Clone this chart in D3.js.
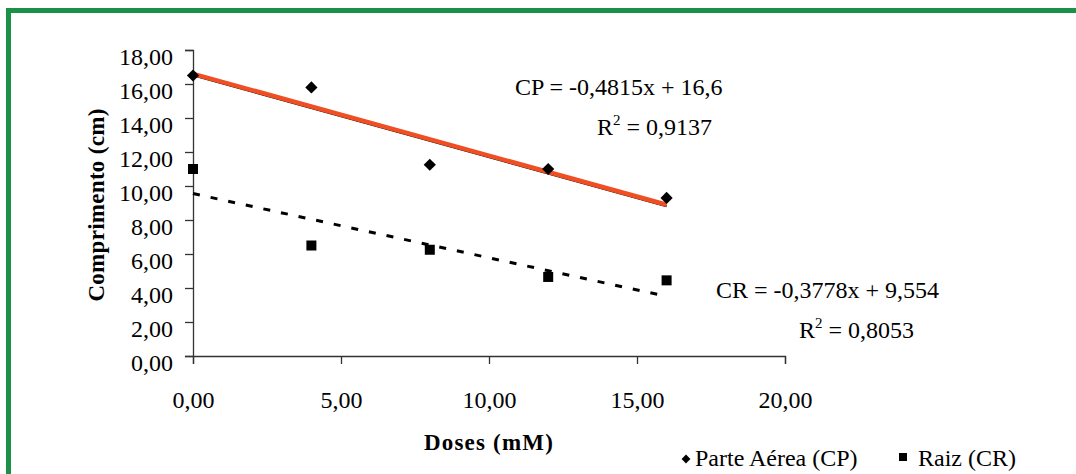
<!DOCTYPE html>
<html>
<head>
<meta charset="utf-8">
<script src="https://cdn.jsdelivr.net/npm/d3@7"></script>
<style>
  body { margin: 0; background: #fff; }
  text { font-family: "Liberation Serif", "Times New Roman", serif; fill: #000; }
</style>
</head>
<body>
<script>
var width = 1076,
  height = 474;

var doses = [0, 4, 8, 12, 16];
var parteAerea = [16.5, 15.8, 11.25, 11.0, 9.3];
var raiz = [11.0, 6.5, 6.25, 4.65, 4.45];
var xTicks = [0, 5, 10, 15, 20];
var yTicks = [0, 2, 4, 6, 8, 10, 12, 14, 16, 18];
var cpFit = [-0.4815, 16.6];
var crFit = [-0.3778, 9.554];

var fmt = function (d) { return d.toFixed(2).replace(".", ","); };

var svg = d3.select("body")
  .append("svg")
  .attr("width", width)
  .attr("height", height);

// green frame (only top and left edges visible)
svg.append("rect")
  .attr("x", 8.5)
  .attr("y", 10.5)
  .attr("width", width + 20)
  .attr("height", height + 20)
  .attr("fill", "none")
  .attr("stroke", "#1b9148")
  .attr("stroke-width", 5);

//----------scales----------
var xScale = d3.scaleLinear().domain([0, 20]).range([193, 785]);
var yScale = d3.scaleLinear().domain([0, 18]).range([356, 50]);

//----------X axis----------
var xAxis = d3.axisBottom(xScale)
  .tickValues(xTicks)
  .tickSize(8)
  .tickPadding(27)
  .tickFormat(fmt);

var gx = svg.append("g")
  .attr("transform", "translate(0,356)")
  .call(xAxis);

//----------Y axis----------
var yAxis = d3.axisLeft(yScale)
  .tickValues(yTicks)
  .tickSize(8)
  .tickPadding(12)
  .tickFormat(fmt);

var gy = svg.append("g")
  .attr("transform", "translate(193,0)")
  .call(yAxis);

[gx, gy].forEach(function (g) {
  g.select(".domain").attr("stroke", "#333").attr("stroke-width", 1.3);
  g.selectAll(".tick line").attr("stroke", "#333").attr("stroke-width", 1.3);
  g.selectAll(".tick text")
    .style("font-family", "'Liberation Serif', serif")
    .style("font-size", "24px")
    .attr("fill", "#000");
});
gy.selectAll(".tick text").attr("dy", "0.62em");

//----------axis titles----------
svg.append("text")
  .attr("transform", "translate(104,205) rotate(-90)")
  .attr("text-anchor", "middle")
  .style("font-size", "23px")
  .style("font-weight", "bold")
  .style("letter-spacing", "0.3px")
  .text("Comprimento (cm)");

svg.append("text")
  .attr("x", 489)
  .attr("y", 450)
  .attr("text-anchor", "middle")
  .style("font-size", "23px")
  .style("font-weight", "bold")
  .style("letter-spacing", "1.2px")
  .text("Doses (mM)");

//----------trend lines----------
var fitLine = function (c) {
  return d3.line()
    .x(function (d) { return xScale(d); })
    .y(function (d) { return yScale(c[0] * d + c[1]); });
};
var range = [0, 16];

svg.append("path")
  .attr("d", fitLine(crFit)(range))
  .attr("fill", "none")
  .attr("stroke", "#000")
  .attr("stroke-width", 3)
  .attr("stroke-dasharray", "7,11");

svg.append("path")
  .attr("d", fitLine(cpFit)(range))
  .attr("transform", "translate(0,1.5)")
  .attr("fill", "none")
  .attr("stroke", "#000")
  .attr("stroke-width", 2);

svg.append("path")
  .attr("d", fitLine(cpFit)(range))
  .attr("fill", "none")
  .attr("stroke", "#f04e23")
  .attr("stroke-width", 4.5);

//----------data points----------
svg.selectAll(".cp")
  .data(doses)
  .enter()
  .append("path")
  .attr("class", "cp")
  .attr("d", d3.symbol().type(d3.symbolDiamond2).size(95))
  .attr("transform", function (d, i) {
    return "translate(" + xScale(d) + "," + yScale(parteAerea[i]) + ")";
  })
  .attr("fill", "#000");

svg.selectAll(".cr")
  .data(doses)
  .enter()
  .append("rect")
  .attr("class", "cr")
  .attr("x", function (d) { return xScale(d) - 5; })
  .attr("y", function (d, i) { return yScale(raiz[i]) - 5; })
  .attr("width", 10)
  .attr("height", 10)
  .attr("fill", "#000");

//----------equations----------
var eq = function (x, y, txt) {
  svg.append("text").attr("x", x).attr("y", y)
    .style("font-size", "24px").text(txt);
};
var r2 = function (x, y, val) {
  var t = svg.append("text").attr("x", x).attr("y", y).style("font-size", "24px");
  t.append("tspan").text("R");
  t.append("tspan").attr("dy", -10).style("font-size", "15px").text("2");
  t.append("tspan").attr("dy", 10).text(" = " + val);
};
eq(515, 95, "CP = -0,4815x + 16,6");
r2(597, 135, "0,9137");
eq(716, 298, "CR = -0,3778x + 9,554");
r2(799, 338, "0,8053");

//----------legend----------
svg.append("path")
  .attr("d", d3.symbol().type(d3.symbolDiamond2).size(50))
  .attr("transform", "translate(686,459)")
  .attr("fill", "#000");
svg.append("text").attr("x", 695).attr("y", 466)
  .style("font-size", "24px").text("Parte Aérea (CP)");

svg.append("rect")
  .attr("x", 899).attr("y", 453).attr("width", 8).attr("height", 8)
  .attr("fill", "#000");
svg.append("text").attr("x", 918).attr("y", 466)
  .style("font-size", "24px").text("Raiz (CR)");
</script>
</body>
</html>
